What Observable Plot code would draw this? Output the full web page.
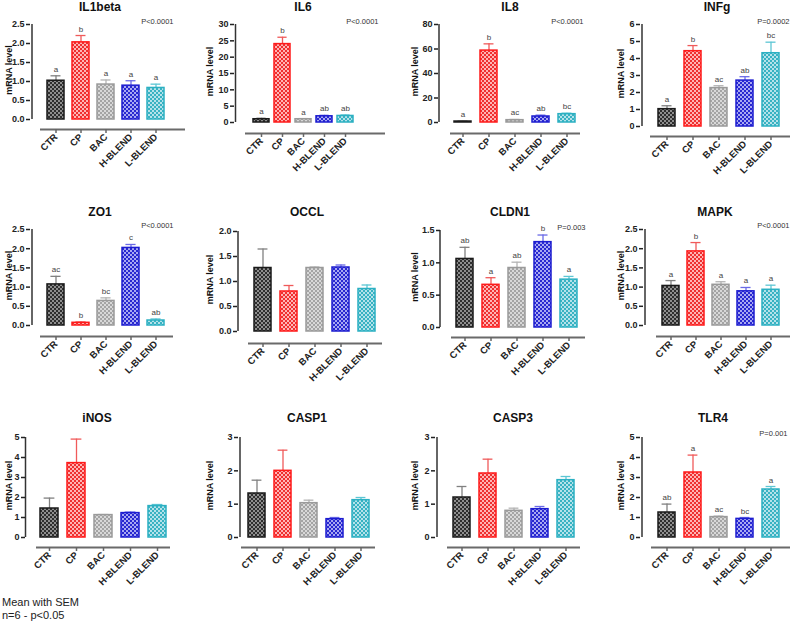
<!DOCTYPE html>
<html><head><meta charset="utf-8">
<script src="https://cdn.jsdelivr.net/npm/d3@7"></script>
<script src="https://cdn.jsdelivr.net/npm/@observablehq/plot@0.6"></script>
<style>
body{margin:0;background:#fff;font-family:"Liberation Sans",Arial,sans-serif;}
#root{position:relative;width:791px;height:622px;overflow:hidden;background:#fff;}
.panel{position:absolute;}
.title{position:absolute;font-weight:bold;font-size:12px;line-height:14px;white-space:nowrap;transform:translateX(-50%);color:#111;}
.caption{position:absolute;left:2px;font-size:11px;color:#222;line-height:13px;white-space:nowrap;}
</style></head><body>
<svg width="0" height="0" style="position:absolute"><defs id="defs"></defs></svg>
<div id="root"></div>
<script>
// ---------- data ----------
const groups = ["CTR", "CP", "BAC", "H-BLEND", "L-BLEND"];

const il1betaMean = [1.02, 2.03, 0.92, 0.89, 0.83];
const il1betaSem  = [0.13, 0.18, 0.12, 0.13, 0.10];
const il1betaLetters = ["a", "b", "a", "a", "a"];
const il1betaTicks = [0, 0.5, 1, 1.5, 2, 2.5];

const il6Mean = [1.0, 24.0, 1.0, 1.9, 2.0];
const il6Sem  = [0.3, 2.1, 0.2, 0.3, 0.3];
const il6Letters = ["a", "b", "a", "ab", "ab"];
const il6Ticks = [0, 5, 10, 15, 20, 25, 30];

const il8Mean = [0.8, 58.7, 1.9, 4.9, 6.8];
const il8Sem  = [0.3, 5.5, 0.6, 1.1, 0.8];
const il8Letters = ["a", "b", "ac", "ab", "bc"];
const il8Ticks = [0, 20, 40, 60, 80];

const infgMean = [1.02, 4.43, 2.26, 2.70, 4.31];
const infgSem  = [0.20, 0.33, 0.14, 0.23, 0.65];
const infgLetters = ["a", "b", "ac", "ab", "bc"];
const infgTicks = [0, 1, 2, 3, 4, 5, 6];

const zo1Mean = [1.07, 0.07, 0.64, 2.02, 0.13];
const zo1Sem  = [0.21, 0.02, 0.08, 0.09, 0.04];
const zo1Letters = ["ac", "b", "bc", "c", "ab"];
const zo1Ticks = [0, 0.5, 1, 1.5, 2, 2.5];

const occlMean = [1.27, 0.80, 1.27, 1.28, 0.85];
const occlSem  = [0.38, 0.12, 0.02, 0.05, 0.08];
const occlTicks = [0, 0.5, 1, 1.5, 2];

const cldn1Mean = [1.06, 0.66, 0.92, 1.32, 0.74];
const cldn1Sem  = [0.18, 0.11, 0.09, 0.11, 0.05];
const cldn1Letters = ["ab", "a", "ab", "b", "a"];
const cldn1Ticks = [0, 0.5, 1, 1.5];

const mapkMean = [1.03, 1.93, 1.06, 0.89, 0.93];
const mapkSem  = [0.14, 0.23, 0.08, 0.10, 0.12];
const mapkLetters = ["a", "b", "a", "a", "a"];
const mapkTicks = [0, 0.5, 1, 1.5, 2, 2.5];

const inosMean = [1.45, 3.72, 1.12, 1.22, 1.57];
const inosSem  = [0.52, 1.20, 0.03, 0.05, 0.08];
const inosTicks = [0, 1, 2, 3, 4, 5];

const casp1Mean = [1.32, 2.00, 1.03, 0.55, 1.12];
const casp1Sem  = [0.40, 0.62, 0.09, 0.05, 0.08];
const casp1Ticks = [0, 1, 2, 3];

const casp3Mean = [1.20, 1.92, 0.80, 0.85, 1.72];
const casp3Sem  = [0.33, 0.43, 0.08, 0.08, 0.11];
const casp3Ticks = [0, 1, 2, 3];

const tlr4Mean = [1.25, 3.25, 1.02, 0.93, 2.40];
const tlr4Sem  = [0.42, 0.87, 0.05, 0.07, 0.15];
const tlr4Letters = ["ab", "a", "ac", "bc", "a"];
const tlr4Ticks = [0, 1, 2, 3, 4, 5];

const panels = [
  {name: "IL1beta", mean: il1betaMean, sem: il1betaSem, letters: il1betaLetters, ticks: il1betaTicks, p: "P<0.0001"},
  {name: "IL6", mean: il6Mean, sem: il6Sem, letters: il6Letters, ticks: il6Ticks, p: "P<0.0001"},
  {name: "IL8", mean: il8Mean, sem: il8Sem, letters: il8Letters, ticks: il8Ticks, p: "P<0.0001"},
  {name: "INFg", mean: infgMean, sem: infgSem, letters: infgLetters, ticks: infgTicks, p: "P=0.0002"},
  {name: "ZO1", mean: zo1Mean, sem: zo1Sem, letters: zo1Letters, ticks: zo1Ticks, p: "P<0.0001"},
  {name: "OCCL", mean: occlMean, sem: occlSem, letters: null, ticks: occlTicks, p: null},
  {name: "CLDN1", mean: cldn1Mean, sem: cldn1Sem, letters: cldn1Letters, ticks: cldn1Ticks, p: "P=0.003"},
  {name: "MAPK", mean: mapkMean, sem: mapkSem, letters: mapkLetters, ticks: mapkTicks, p: "P<0.0001"},
  {name: "iNOS", mean: inosMean, sem: inosSem, letters: null, ticks: inosTicks, p: null},
  {name: "CASP1", mean: casp1Mean, sem: casp1Sem, letters: null, ticks: casp1Ticks, p: null},
  {name: "CASP3", mean: casp3Mean, sem: casp3Sem, letters: null, ticks: casp3Ticks, p: null},
  {name: "TLR4", mean: tlr4Mean, sem: tlr4Sem, letters: tlr4Letters, ticks: tlr4Ticks, p: "P=0.001"}
];

const captionLines = ["Mean with SEM", "n=6 - p<0.05"];

// ---------- style / layout ----------
const patDark  = ["#2e2e2e", "#ee3030", "#a4a4a4", "#2828d0", "#38b2c2"];
const patLight = ["#8e8e8e", "#ffb4b4", "#d8d8d8", "#a8a8f2", "#b4e2ea"];
const strokeCol = ["#1a1a1a", "#ff1a1a", "#9a9a9a", "#1c1cd0", "#2bb0c2"];
const errCol = ["#808080", "#f05a5a", "#b4b4b4", "#6a6ae6", "#5cc6d4"];

const colL = [0, 195, 390, 590], colW = [195, 195, 200, 201];
const rowT = [0, 190, 390], rowH = [190, 200, 215];
const labelX = [9, 210, 415, 621];

const layout = [
  {yAxisX: 30, xStart: 40, xEnd: 185, ctr: 54, lb: 157, yTop: 24, yZero: 119, xAxisY: 129, titleX: 100, titleY: 7, pX: 173, pY: 21, pad: 0.32},
  {yAxisX: 234, xStart: 245, xEnd: 385, ctr: 260, lb: 347, yTop: 24, yZero: 122, xAxisY: 133, titleX: 303, titleY: 7, pX: 378, pY: 21, pad: 0.22},
  {yAxisX: 438, xStart: 450, xEnd: 580, ctr: 462, lb: 567, yTop: 24, yZero: 122, xAxisY: 133, titleX: 510, titleY: 7, pX: 583, pY: 21, pad: 0.33},
  {yAxisX: 640, xStart: 650, xEnd: 790, ctr: 665, lb: 772, yTop: 24, yZero: 126, xAxisY: 136, titleX: 717, titleY: 7, pX: 789, pY: 21, pad: 0.35},
  {yAxisX: 30, xStart: 40, xEnd: 173, ctr: 54, lb: 156, yTop: 229, yZero: 325, xAxisY: 336, titleX: 100, titleY: 212, pX: 173, pY: 225, pad: 0.33},
  {yAxisX: 237, xStart: 248, xEnd: 382, ctr: 262, lb: 368, yTop: 231, yZero: 331, xAxisY: 343, titleX: 307, titleY: 212, pX: 380, pY: 227, pad: 0.33},
  {yAxisX: 440, xStart: 451, xEnd: 585, ctr: 465, lb: 569, yTop: 230, yZero: 327, xAxisY: 337, titleX: 510, titleY: 212, pX: 585, pY: 227, pad: 0.33},
  {yAxisX: 643, xStart: 656, xEnd: 790, ctr: 669, lb: 772, yTop: 229, yZero: 325, xAxisY: 336, titleX: 715, titleY: 212, pX: 789, pY: 225, pad: 0.33},
  {yAxisX: 25, xStart: 36, xEnd: 170, ctr: 49, lb: 157, yTop: 437, yZero: 537, xAxisY: 547, titleX: 97, titleY: 418, pX: 170, pY: 433, pad: 0.33},
  {yAxisX: 238, xStart: 241, xEnd: 375, ctr: 255, lb: 362, yTop: 437, yZero: 537, xAxisY: 547, titleX: 307, titleY: 418, pX: 375, pY: 433, pad: 0.33},
  {yAxisX: 435, xStart: 447, xEnd: 580, ctr: 460, lb: 567, yTop: 437, yZero: 537, xAxisY: 547, titleX: 513, titleY: 418, pX: 580, pY: 433, pad: 0.33},
  {yAxisX: 640, xStart: 651, xEnd: 790, ctr: 665, lb: 772, yTop: 437, yZero: 537, xAxisY: 547, titleX: 713, titleY: 418, pX: 787, pY: 433, pad: 0.33}
];

// patterns
const defs = document.getElementById("defs");
const NS = "http://www.w3.org/2000/svg";
groups.forEach((g, i) => {
  const pat = document.createElementNS(NS, "pattern");
  pat.setAttribute("id", "pat" + i);
  pat.setAttribute("width", 4); pat.setAttribute("height", 4);
  pat.setAttribute("patternUnits", "userSpaceOnUse");
  const mk = (x, y, w, h, f) => { const r = document.createElementNS(NS, "rect"); r.setAttribute("x", x); r.setAttribute("y", y); r.setAttribute("width", w); r.setAttribute("height", h); r.setAttribute("fill", f); pat.appendChild(r); };
  mk(0, 0, 4, 4, patLight[i]);
  mk(0, 0, 2, 2, patDark[i]);
  mk(2, 2, 2, 2, patDark[i]);
  defs.appendChild(pat);
});

const root = document.getElementById("root");

panels.forEach((p, k) => {
  const g = layout[k];
  const col = k % 4, row = Math.floor(k / 4);
  const L = colL[col], T = rowT[row], W = colW[col], H = rowH[row];
  const ml = g.yAxisX - L, mr = L + W - g.xEnd, mt = g.yTop - T, mb = T + H - g.xAxisY;
  const step = (g.lb - g.ctr) / 4;
  const insetLeft = (g.ctr - step / 2) - g.yAxisX;
  const insetRight = g.xEnd - (g.lb + step / 2);
  const yMax = p.ticks[p.ticks.length - 1];
  const gap = g.xAxisY - g.yZero;
  const decimals = p.ticks.some(t => !Number.isInteger(t));
  const data = groups.map((name, i) => ({
    name, i, mean: p.mean[i], top: p.mean[i] + p.sem[i],
    letter: p.letters ? p.letters[i] : null
  }));

  const marks = [
    Plot.ruleY([0], {dy: gap, insetLeft: g.xStart - g.yAxisX, stroke: "#6a6a6a", strokeWidth: 2}),
    Plot.ruleX([groups[0]], {x: d => d, y1: () => 0, y2: () => yMax, dx: -(g.ctr - g.yAxisX), stroke: "#333", strokeWidth: 1.5}),
    Plot.axisY({ticks: p.ticks, tickFormat: decimals ? d3.format(".1f") : d3.format("d"), tickSize: 4, tickPadding: 2, fontWeight: "bold", fontSize: 9, label: null, strokeWidth: 1.5}),
    Plot.axisX({tickRotate: -45, tickSize: 4, tickPadding: 2, fontWeight: "bold", fontSize: 9.5, label: null, strokeWidth: 1.5, stroke: "#666"}),
    Plot.ruleX(data, {x: "name", y1: "mean", y2: "top", stroke: d => errCol[d.i], strokeWidth: 1.3}),
    Plot.tickY(data, {x: "name", y: "top", stroke: d => errCol[d.i], strokeWidth: 1.3, insetLeft: step * (1 - g.pad) * 0.2, insetRight: step * (1 - g.pad) * 0.2}),
    Plot.barY(data, {x: "name", y: "mean", fill: d => `url(#pat${d.i})`, stroke: d => strokeCol[d.i], strokeWidth: 1.5}),
    Plot.text(["mRNA level"], {frameAnchor: "left", text: d => d, rotate: -90, textAnchor: "middle", dx: labelX[col] - g.yAxisX, dy: -gap / 2 - 2, fontWeight: "bold", fontSize: 9, fill: "#111"})
  ];
  if (p.letters) {
    marks.push(Plot.text(data, {x: "name", y: "top", text: "letter", dy: -4, lineAnchor: "bottom", fontSize: 8, fill: "#444"}));
  }
  if (p.p) {
    marks.push(Plot.text([p.p], {frameAnchor: "top-right", text: d => d, dx: g.pX - g.xEnd, dy: g.pY - g.yTop, lineAnchor: "middle", fontSize: 7.5, fill: "#333"}));
  }

  const chart = Plot.plot({
    width: W, height: H,
    marginLeft: ml, marginRight: mr, marginTop: mt, marginBottom: mb,
    style: {fontFamily: "Liberation Sans, Arial, sans-serif", background: "transparent", overflow: "visible", color: "#222", maxWidth: "none"},
    x: {type: "band", domain: groups, paddingInner: g.pad, paddingOuter: g.pad / 2, insetLeft, insetRight},
    y: {domain: [0, yMax], insetBottom: gap},
    color: {type: "identity"},
    marks
  });

  const div = document.createElement("div");
  div.className = "panel";
  div.style.left = L + "px"; div.style.top = T + "px"; div.style.width = W + "px"; div.style.height = H + "px";
  div.appendChild(chart);
  root.appendChild(div);

  const t = document.createElement("div");
  t.className = "title";
  t.textContent = p.name;
  t.style.left = g.titleX + "px";
  t.style.top = (g.titleY - 7) + "px";
  root.appendChild(t);
});

captionLines.forEach((line, i) => {
  const c = document.createElement("div");
  c.className = "caption";
  c.textContent = line;
  c.style.top = (596 + i * 13) + "px";
  root.appendChild(c);
});
</script>
</body></html>
